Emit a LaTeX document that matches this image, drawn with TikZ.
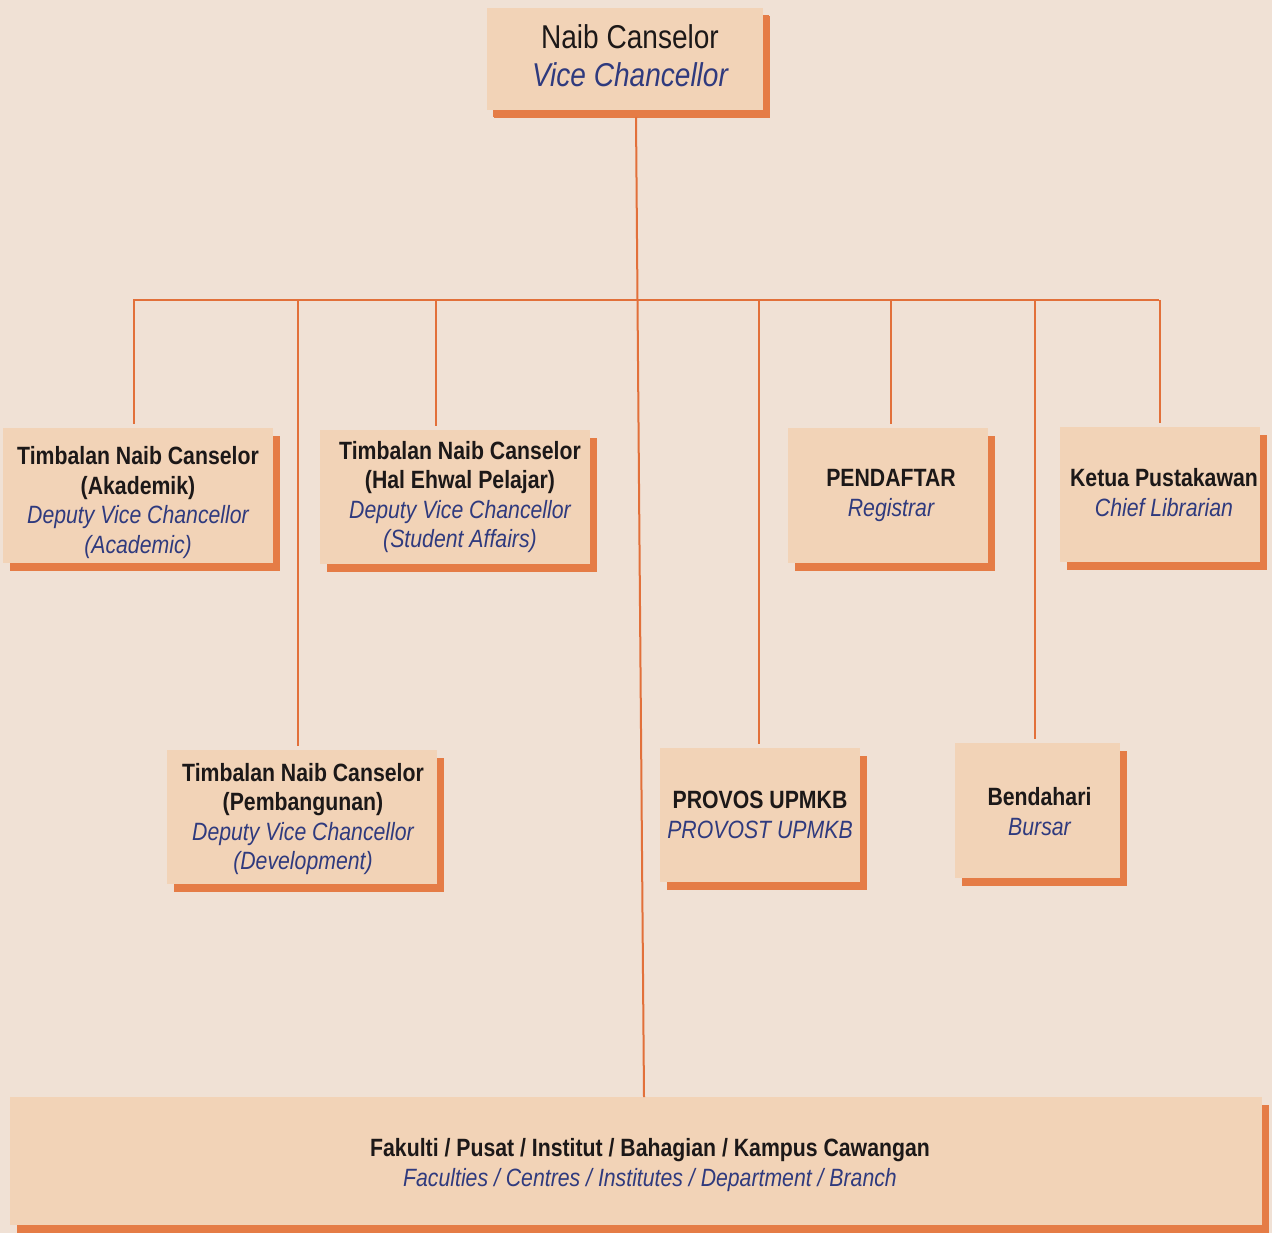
\documentclass[tikz,border=0pt]{standalone}
\usepackage{fontspec}
\setmainfont{Liberation Sans}[FakeStretch=0.85]
\usetikzlibrary{shadows}
\definecolor{bgc}{HTML}{F0E1D5}
\definecolor{boxc}{HTML}{F2D3B7}
\definecolor{shadc}{HTML}{E57C46}
\definecolor{linec}{HTML}{E2703A}
\definecolor{engc}{HTML}{2F3A7E}
\definecolor{txtc}{HTML}{1C1818}
\newcommand\eng[1]{{\color{engc}\itshape #1}}
\newcommand\mal[1]{{\bfseries #1}}
\begin{document}
\begin{tikzpicture}[x=1pt,y=-1pt,
  orgbox/.style={fill=boxc, inner sep=0pt,
    general shadow={fill=shadc, shadow xshift=7pt, shadow yshift=-8pt}},
  txt/.style={inner sep=0pt, align=center, text=txtc,
    font=\fontsize{25}{29.5}\selectfont},
  conn/.style={draw=linec, line width=2pt},
  drop/.style={conn, shorten >=4pt}]
\fill[bgc] (0,0) rectangle (1272,1233);
\useasboundingbox (0,0) rectangle (1272,1233);

% boxes
\node[orgbox, minimum width=276pt, minimum height=102pt,
  general shadow={fill=shadc, shadow xshift=6pt, shadow yshift=-7pt}] (vc) at (625,59) {};
\node[orgbox, minimum width=270pt, minimum height=135pt] (akad) at (138,495.5) {};
\node[orgbox, minimum width=270pt, minimum height=134pt] (hep) at (455,497) {};
\node[orgbox, minimum width=200pt, minimum height=135pt] (pend) at (888,495.5) {};
\node[orgbox, minimum width=200pt, minimum height=135pt] (lib) at (1160,494.5) {};
\node[orgbox, minimum width=270pt, minimum height=134pt] (pemb) at (302,817) {};
\node[orgbox, minimum width=200pt, minimum height=134pt] (prov) at (760,815) {};
\node[orgbox, minimum width=165pt, minimum height=135pt] (bend) at (1037.5,810.5) {};
\node[orgbox, minimum width=1252pt, minimum height=128pt] (fak) at (636,1161) {};

% texts
\node[txt, font=\fontsize{33}{38}\selectfont] (vct) at ([shift={(5,-3)}]vc.center)
  {Naib Canselor\\\eng{Vice Chancellor}};
\node[txt] (akadt) at ([shift={(0,7)}]akad.center)
  {\mal{Timbalan Naib Canselor}\\\mal{(Akademik)}\\\eng{Deputy Vice Chancellor}\\\eng{(Academic)}};
\node[txt] (hept) at ([shift={(5,0)}]hep.center)
  {\mal{Timbalan Naib Canselor}\\\mal{(Hal Ehwal Pelajar)}\\\eng{Deputy Vice Chancellor}\\\eng{(Student Affairs)}};
\node[txt] (pendt) at ([shift={(3,0)}]pend.center)
  {\mal{PENDAFTAR}\\\eng{Registrar}};
\node[txt] (libt) at ([shift={(4,-2)}]lib.center)
  {\mal{Ketua Pustakawan}\\\eng{Chief Librarian}};
\node[txt] (pembt) at ([shift={(1,2)}]pemb.center)
  {\mal{Timbalan Naib Canselor}\\\mal{(Pembangunan)}\\\eng{Deputy Vice Chancellor}\\\eng{(Development)}};
\node[txt] (provt) at (prov.center)
  {\mal{PROVOS UPMKB}\\\eng{PROVOST UPMKB}};
\node[txt] (bendt) at ([shift={(2,1)}]bend.center)
  {\mal{Bendahari}\\\eng{Bursar}};
\node[txt] (fakt) at ([shift={(14,4)}]fak.center)
  {\mal{Fakulti / Pusat / Institut / Bahagian / Kampus Cawangan}\\\eng{Faculties / Centres / Institutes / Department / Branch}};

% bus coordinates
\coordinate (bL) at (133,300);
\coordinate (bR) at (1159,300);
\coordinate (top) at (636,117);
\coordinate (bot) at (644,1097);
\coordinate (d1) at (134,300);
\coordinate (d2) at (298,300);
\coordinate (d3) at (436,300);
\coordinate (d4) at (759,300);
\coordinate (d5) at (891,300);
\coordinate (d6) at (1035,300);
\coordinate (d7) at (1160,300);

% connectors
\draw[conn] (bL) -- (bR);
\draw[conn] (top) -- (bot);
\draw[drop] (d1) -- (d1 |- akad.north);
\draw[drop] (d2) -- (d2 |- pemb.north);
\draw[drop] (d3) -- (d3 |- hep.north);
\draw[drop] (d4) -- (d4 |- prov.north);
\draw[drop] (d5) -- (d5 |- pend.north);
\draw[drop] (d6) -- (d6 |- bend.north);
\draw[drop] (d7) -- (d7 |- lib.north);
\end{tikzpicture}
\end{document}
